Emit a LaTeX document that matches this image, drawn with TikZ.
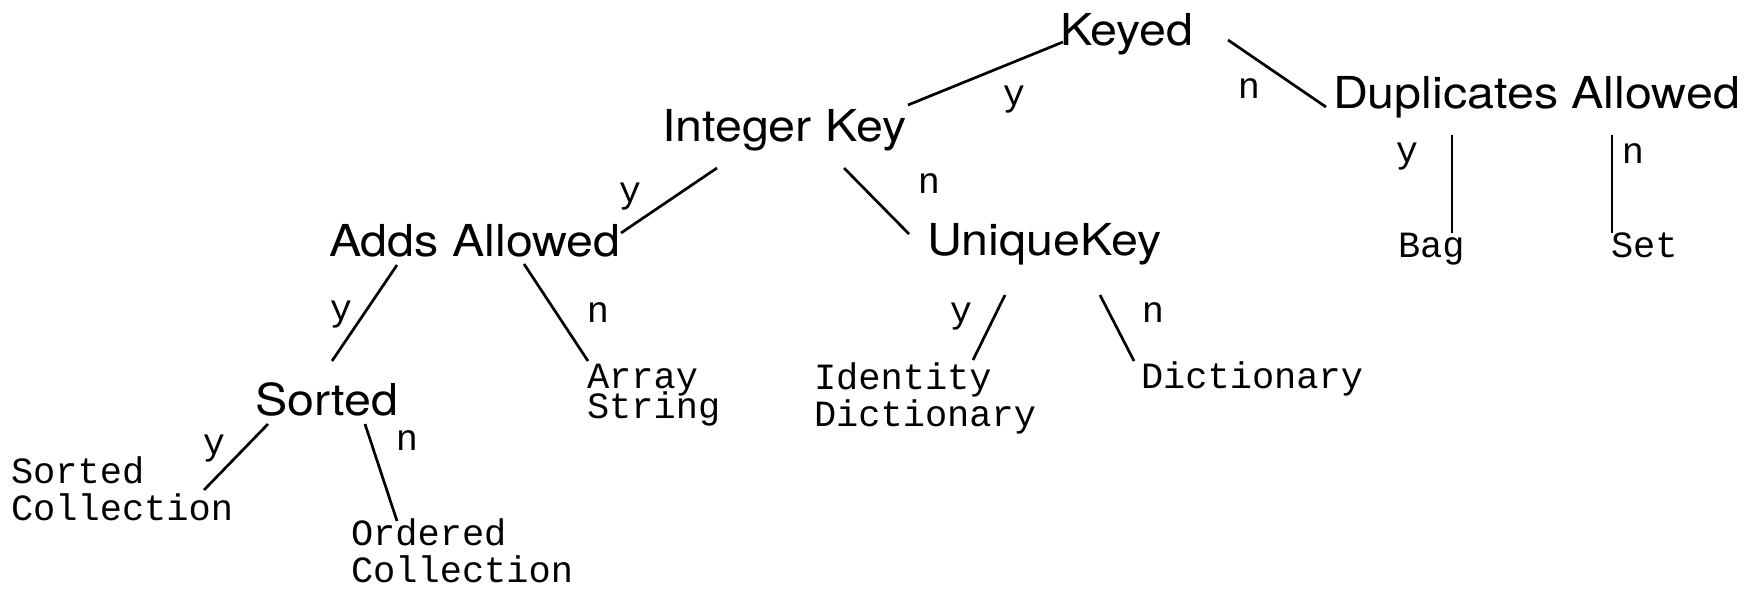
\documentclass[tikz,border=0pt]{standalone}
\usepackage{fontspec}
\newfontfamily\questionfont[FakeStretch=1.1]{TeX Gyre Heros}
\newfontfamily\leaffont{Liberation Mono}
% stacked class names, hanging from the first line's baseline
\newcommand{\twolines}[3][0pt]{\begin{tabular}[t]{@{}l@{}}#2\\[#1]#3\end{tabular}}

\begin{document}
\begin{tikzpicture}[x=1pt,y=-1pt,
  question/.style={anchor=base west,inner sep=0pt,outer sep=0pt,
    font=\questionfont\fontsize{44}{50}\selectfont},
  leaf/.style={anchor=base west,inner sep=0pt,outer sep=0pt,
    font=\leaffont\fontsize{37}{37}\selectfont},
  answer/.style={anchor=base,inner sep=0pt,outer sep=0pt,
    font=\leaffont\fontsize{37}{37}\selectfont},
  branch/.style={line width=2.7pt}]
\path[use as bounding box,fill=white] (0,0) rectangle (1755,589);

% questions
\node[question] (keyed)  at (1060, 45) {Keyed};
\node[question] (intkey) at ( 662,141) {Integer Key};
\node[question] (dup)    at (1333,108) {Duplicates Allowed};
\node[question] (adds)   at ( 329,256) {Adds Allowed};
\node[question] (unique) at ( 927,255) {UniqueKey};
\node[question] (sorted) at ( 255,415) {Sorted};

% collection classes
\node[leaf] (bag)     at (1398,257) {Bag};
\node[leaf] (set)     at (1611,257) {Set};
\node[leaf] (array)   at ( 587,388) {\twolines[-7pt]{Array}{String}};
\node[leaf] (ident)   at ( 814,389) {\twolines{Identity}{Dictionary}};
\node[leaf] (dict)    at (1141,388) {Dictionary};
\node[leaf] (sortcol) at (  11,483) {\twolines{Sorted}{Collection}};
\node[leaf] (ordcol)  at ( 351,545) {\twolines{Ordered}{Collection}};

% branches
\draw[branch] ([shift={(3,-3)}]keyed.base west) -- ([shift={(246,-36)}]intkey.base west);
\draw[branch] ([shift={(168,-5)}]keyed.base west) -- ([shift={(-7,-1)}]dup.base west);
\draw[branch] ([shift={(55,27)}]intkey.base west) -- ([shift={(292,-23)}]adds.base west);
\draw[branch] ([shift={(182,27)}]intkey.base west) -- ([shift={(-18,-21)}]unique.base west);
\draw[branch,line width=2.2pt] ([shift={(119,27)}]dup.base west) -- ([shift={(54,-24)}]bag.base west);
\draw[branch,line width=2.2pt] ([shift={(279,27)}]dup.base west) -- ([shift={(1,-24)}]set.base west);
\draw[branch] ([shift={(68,9)}]adds.base west) -- ([shift={(77,-54)}]sorted.base west);
\draw[branch] ([shift={(195,8)}]adds.base west) -- ([shift={(1,-27)}]array.base west);
\draw[branch] ([shift={(13,9)}]sorted.base west) -- ([shift={(193,7)}]sortcol.base west);
\draw[branch] ([shift={(110,9)}]sorted.base west) -- ([shift={(46,-24)}]ordcol.base west);
\draw[branch] ([shift={(78,40)}]unique.base west) -- ([shift={(159,-29)}]ident.base west);
\draw[branch] ([shift={(173,40)}]unique.base west) -- ([shift={(-7,-27)}]dict.base west);

% y/n answers
\node[answer] (keyedy)  at (1014,105) {y};
\node[answer] (keyedn)  at (1249, 98) {n};
\node[answer] (intkeyy) at ( 630,202) {y};
\node[answer] (intkeyn) at ( 929,193) {n};
\node[answer] (dupy)    at (1407,162) {y};
\node[answer] (dupn)    at (1633,163) {n};
\node[answer] (addsy)   at ( 341,320) {y};
\node[answer] (addsn)   at ( 598,322) {n};
\node[answer] (sortedy) at ( 214,454) {y};
\node[answer] (sortedn) at ( 407,450) {n};
\node[answer] (uniquey) at ( 961,322) {y};
\node[answer] (uniquen) at (1153,322) {n};
\end{tikzpicture}
\end{document}
